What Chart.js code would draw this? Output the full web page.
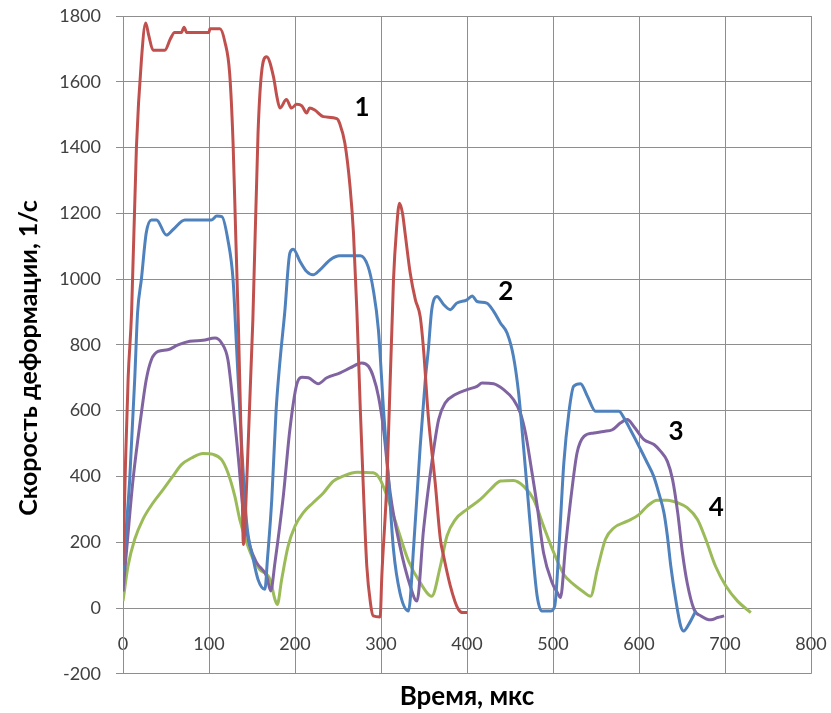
<!DOCTYPE html>
<html>
<head>
<meta charset="utf-8">
<script src="https://cdn.jsdelivr.net/npm/chart.js@4.4.0/dist/chart.umd.min.js"></script>
<style>
  html, body { margin: 0; padding: 0; background: #fff; }
  #wrap { width: 831px; height: 713px; }
</style>
</head>
<body>
<div id="wrap"><canvas id="chart" width="831" height="713"></canvas></div>
<script>
// время, мкс / скорость деформации, 1/с
const time1 = [0, 3, 6, 10, 15.6, 21.4, 26.4, 30, 35, 48.6, 55, 60, 68, 71, 74, 100, 101, 112.7, 118.5, 124, 128, 131, 134, 138, 140, 144, 151, 157, 161, 167, 175, 179, 182.5, 190, 196, 202, 208, 213.6, 217, 223, 233, 248.6, 252, 258, 264, 268, 272, 276, 280, 283.5, 288, 291, 299, 301, 307, 314.5, 318, 321.5, 325, 328, 334, 340, 345.6, 349.5, 355, 363, 369, 372.8, 380.6, 386, 390, 395, 400]
const rate1 = [130, 450, 700, 900, 1400, 1666, 1779, 1740, 1696, 1696, 1730, 1750, 1750, 1766, 1750, 1750, 1761, 1761, 1721, 1626, 1413, 1140, 876, 450, 193, 391, 876, 1443, 1625, 1676, 1615, 1554, 1520, 1546, 1520, 1532, 1527, 1505, 1520, 1514, 1494, 1488, 1473, 1413, 1281, 1140, 900, 600, 330, 127, 10, -24, -27, 100, 391, 997, 1150, 1231, 1200, 1140, 1018, 937, 886, 785, 583, 381, 210, 158, 67, 20, -4, -14, -14]

const time2 = [0, 4, 7.8, 13.6, 17, 21.4, 27, 33, 39, 50.5, 58, 72, 103, 109, 115, 122, 128, 132, 138, 143.8, 151.5, 157, 165, 168, 173, 178, 182.5, 188, 194, 198, 206, 213.6, 221, 229, 241, 252, 276, 285, 291, 297, 303, 309, 314.5, 322, 332, 338, 345.6, 351.5, 355, 359, 365, 373, 380.6, 388, 400, 406, 411.7, 423, 431, 439, 446.6, 454, 460, 466, 471, 475.7, 481.6, 487, 497, 502, 507, 512.6, 518.4, 524, 532, 540, 549.5, 576.7, 582.5, 590, 600, 609.7, 617, 623, 629, 633, 637, 642.7, 648.5, 652, 658, 666]
const rate2 = [110, 250, 391, 694, 900, 1000, 1140, 1180, 1180, 1134, 1150, 1180, 1180, 1192, 1190, 1119, 998, 795, 492, 259, 148, 87, 57, 150, 330, 600, 750, 897, 1079, 1091, 1053, 1023, 1013, 1028, 1059, 1071, 1071, 1038, 968, 846, 600, 381, 178, 47, -9, 188, 492, 694, 785, 907, 947, 922, 907, 927, 937, 949, 932, 927, 902, 866, 836, 765, 654, 482, 330, 188, 36, -9, -9, 6, 188, 441, 593, 674, 682, 644, 598, 598, 578, 542, 492, 441, 401, 350, 290, 219, 127, 26, -55, -70, -49, -9]

const time3 = [0, 5, 11.7, 21.4, 27, 33, 40.8, 52, 64, 77.7, 93, 107, 114.6, 122, 128, 134, 140, 147.6, 155.4, 167, 171.7, 176.7, 186.4, 194, 202, 208, 215.6, 227, 237, 252.5, 264, 277.7, 285.4, 291, 297, 303, 310.7, 322, 334, 341.8, 349.5, 359, 367, 374.8, 386.4, 400, 411.7, 417.5, 431, 442.7, 454, 462, 468, 473.8, 481.6, 489, 499, 505, 508.7, 514.6, 522, 528, 536, 547.5, 559, 569, 578.6, 586.4, 594, 605.8, 617.4, 625, 633, 639, 645, 650.5, 656, 664, 672, 683.7, 691.3, 699]
const rate3 = [50, 200, 391, 593, 694, 755, 780, 785, 800, 811, 814, 821, 806, 755, 620, 460, 290, 188, 138, 97, 52, 138, 340, 542, 680, 702, 700, 682, 700, 715, 730, 745, 735, 704, 644, 542, 350, 188, 67, 21, 239, 441, 573, 624, 649, 664, 674, 684, 682, 664, 634, 593, 532, 441, 310, 168, 77, 47, 32, 188, 360, 472, 522, 532, 537, 542, 563, 573, 552, 512, 497, 477, 446, 391, 290, 168, 77, -4, -24, -36, -29, -24]

const time4 = [0, 5.8, 13.6, 23, 35, 46.6, 58, 68, 79.7, 93, 105, 114.6, 122, 130, 135.8, 143.8, 151.5, 159, 171, 176.7, 179.4, 184.5, 192, 200, 209.7, 221, 233, 244.6, 256, 272, 291, 299, 307, 318.5, 332, 345.6, 359, 369, 376.7, 386.4, 400, 415.5, 427, 439, 454, 466, 477.6, 489, 501, 512.6, 524, 534, 543.7, 551.5, 561, 571, 586.4, 600, 609.7, 621, 633, 645, 656, 668, 677.6, 689, 701, 714.6, 730]
const rate4 = [21, 127, 209, 269, 320, 360, 401, 436, 456, 470, 467, 451, 411, 340, 269, 199, 148, 117, 87, 26, 11, 87, 188, 249, 290, 320, 350, 386, 401, 413, 411, 391, 340, 249, 143, 77, 36, 127, 219, 269, 300, 330, 360, 386, 388, 370, 330, 249, 168, 102, 72, 52, 36, 117, 209, 244, 264, 284, 310, 328, 328, 320, 305, 269, 209, 127, 67, 21, -14]

const seriesNames = ['1', '2', '3', '4']
const xTicks = [0, 100, 200, 300, 400, 500, 600, 700, 800]
const yTicks = [-200, 0, 200, 400, 600, 800, 1000, 1200, 1400, 1600, 1800]

const colors = ['#c0504d', '#4f81bd', '#8064a2', '#9bbb59']
const times = [time1, time2, time3, time4]
const rates = [rate1, rate2, rate3, rate4]

const toPoints = (t, v) => t.map((x, i) => ({ x: x, y: v[i] }))

const datasets = seriesNames.map((name, k) => ({
  label: name,
  data: toPoints(times[k], rates[k]),
  borderColor: colors[k],
  borderWidth: 3,
  pointRadius: 0,
  cubicInterpolationMode: 'monotone',
  fill: false
}))

const fontFamily = 'Lato, "Open Sans", sans-serif'

// номера кривых рядом с линиями + подпись оси Y
const curveNumbers = {
  id: 'curveNumbers',
  afterDatasetsDraw(chart, args, opts) {
    const { ctx, scales, chartArea } = chart
    ctx.save()
    ctx.font = 'bold 26px ' + fontFamily
    ctx.fillStyle = '#000'
    ctx.textAlign = 'center'
    ctx.textBaseline = 'middle'
    opts.items.forEach(it => {
      ctx.fillText(it.text, scales.x.getPixelForValue(it.x), scales.y.getPixelForValue(it.y))
    })
    // подпись оси Y (в оригинале чуть ниже середины)
    ctx.translate(29, (chartArea.top + chartArea.bottom) / 2 + 13)
    ctx.rotate(-Math.PI / 2)
    ctx.font = 'bold 25px ' + fontFamily
    ctx.fillText(opts.yTitle, 0, 0)
    ctx.restore()
  }
}

const gridColor = '#8e8e8e'
const tickColor = '#404040'
const tickFont = { family: fontFamily, size: 18 }

new Chart(document.getElementById('chart'), {
  type: 'line',
  data: { datasets: datasets },
  plugins: [curveNumbers],
  options: {
    responsive: false,
    animation: false,
    layout: { padding: { top: 16, right: 20, bottom: 1, left: 0 } },
    plugins: {
      legend: { display: false },
      tooltip: { enabled: false },
      title: {
        display: true,
        fullSize: false,
        position: 'bottom',
        text: 'Время, мкс',
        color: '#000',
        font: { family: fontFamily, size: 26, weight: 'bold' },
        padding: { top: 7, bottom: 0 }
      },
      curveNumbers: {
        yTitle: 'Скорость деформации, 1/с',
        items: [
          { text: seriesNames[0], x: 278, y: 1520 },
          { text: seriesNames[1], x: 445, y: 962 },
          { text: seriesNames[2], x: 643, y: 536 },
          { text: seriesNames[3], x: 690, y: 305 }
        ]
      }
    },
    scales: {
      x: {
        type: 'linear',
        position: { y: 0 },
        min: 0,
        max: 800,
        afterBuildTicks: s => { s.ticks = xTicks.map(v => ({ value: v })) },
        afterFit: s => { s.paddingLeft = 0; s.paddingRight = 0 },
        grid: { color: gridColor, drawTicks: false },
        border: { color: gridColor },
        ticks: { color: tickColor, font: tickFont, padding: 25, maxRotation: 0, callback: v => String(v) }
      },
      y: {
        min: -200,
        max: 1800,
        afterBuildTicks: s => { s.ticks = yTicks.map(v => ({ value: v })) },
        afterFit: s => { s.width = 123; s.paddingTop = 0; s.paddingBottom = 0 },
        grid: { color: gridColor, tickLength: 7 },
        border: { color: gridColor },
        ticks: { color: tickColor, font: tickFont, padding: 15, callback: v => String(v) }
      }
    }
  }
})
</script>
</body>
</html>
